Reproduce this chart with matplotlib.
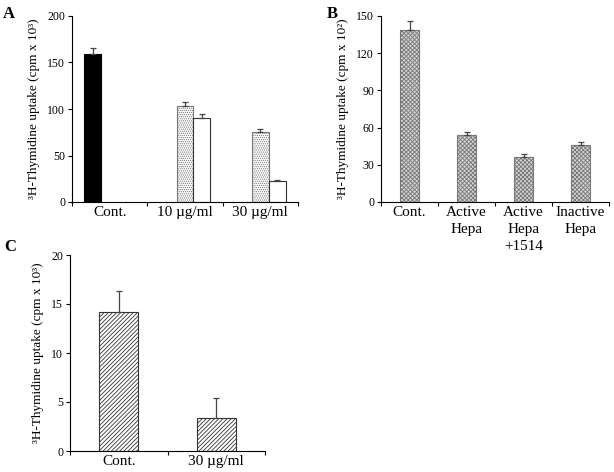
import numpy as np
import matplotlib.pyplot as plt

plt.rcParams['font.family'] = ['Liberation Serif', 'DejaVu Serif']

# Panel A data
catsA = ['Cont.', '10 \u00b5g/ml', '30 \u00b5g/ml']
contA = [159, 0, 0]
contA_err = [7, 0, 0]
dotA = [0, 103, 75]
dotA_err = [0, 5, 3]
whiteA = [0, 90, 23]
whiteA_err = [0, 4.5, 0.6]

# Panel B data
catsB = ['Cont.', 'Active\nHepa', 'Active\nHepa\n+1514', 'Inactive\nHepa']
valsB = [139, 54, 36.5, 46]
errB = [7, 2.5, 2, 2]

# Panel C data
catsC = ['Cont.', '30 \u00b5g/ml']
valsC = [14.2, 3.4]
errC = [2.1, 2.0]


def styleAxis(ax, n, labels, ymax, ystep, ylabel, labelsize=11):
    ax.spines['top'].set_visible(False)
    ax.spines['right'].set_visible(False)
    ax.set_xlim(0, n)
    ax.set_ylim(0, ymax)
    ax.set_yticks(np.arange(0, ymax + 0.1, ystep))
    ax.set_xticks(np.arange(0, n + 1))
    ax.set_xticklabels([])
    ax.set_xticks(np.arange(n) + 0.5, minor=True)
    ax.set_xticklabels(labels, minor=True, fontsize=labelsize, linespacing=1.4)
    ax.tick_params(axis='x', which='minor', length=0, pad=3)
    ax.tick_params(axis='x', which='major', length=3, direction='out')
    ax.tick_params(axis='y', length=3, direction='out', labelsize=8.5, pad=2)
    ax.set_ylabel(ylabel, fontsize=9.5, labelpad=5)


def addBars(ax, x, vals, errs, width, **kw):
    vals = np.array(vals)
    errs = np.array(errs)
    mask = vals > 0
    ax.bar(x[mask], vals[mask], width, **kw)
    ax.errorbar(x[mask], vals[mask], yerr=[np.zeros(mask.sum()), errs[mask]],
                fmt='none', ecolor='#444444', elinewidth=0.9, capsize=2.5, capthick=0.9)


fig = plt.figure(figsize=(6.14, 4.72), dpi=100)
plt.rcParams['hatch.linewidth'] = 0.6

# Panel A
axA = fig.add_axes([72 / 614, 1 - 202 / 472, 226 / 614, 186 / 472])
xA = np.arange(len(catsA)) + 0.5
w = 0.225
addBars(axA, xA - w, contA, contA_err, w, color='black', edgecolor='black', linewidth=0.8)
addBars(axA, xA, dotA, dotA_err, w, facecolor='white', edgecolor='#777777',
        hatch='........', linewidth=0.8)
addBars(axA, xA + w, whiteA, whiteA_err, w, facecolor='white', edgecolor='#333333', linewidth=0.8)
styleAxis(axA, 3, catsA, 200, 50, '\u00b3H-Thymidine uptake (cpm x 10\u00b3)')
fig.text(3 / 614, 1 - 18 / 472, 'A', fontsize=12, fontweight='bold')

# Panel B
axB = fig.add_axes([381 / 614, 1 - 202 / 472, 228 / 614, 186 / 472])
xB = np.arange(len(catsB)) + 0.5
addBars(axB, xB, valsB, errB, 0.32, facecolor='#d4d4d4', edgecolor='#777777',
        hatch='xxxxxxxx', linewidth=0.8)
styleAxis(axB, 4, catsB, 150, 30, '\u00b3H-Thymidine uptake (cpm x 10\u00b2)')
fig.text(327 / 614, 1 - 18 / 472, 'B', fontsize=12, fontweight='bold')

# Panel C
axC = fig.add_axes([70 / 614, 1 - 451 / 472, 195 / 614, 196 / 472])
xC = np.arange(len(catsC)) + 0.5
addBars(axC, xC, valsC, errC, 0.4, facecolor='white', edgecolor='#333333',
        hatch='////////', linewidth=0.8)
styleAxis(axC, 2, catsC, 20, 5, '\u00b3H-Thymidine uptake (cpm x 10\u00b3)')
fig.text(4 / 614, 1 - 251 / 472, 'C', fontsize=12, fontweight='bold')

plt.savefig('out.png', dpi=100)
